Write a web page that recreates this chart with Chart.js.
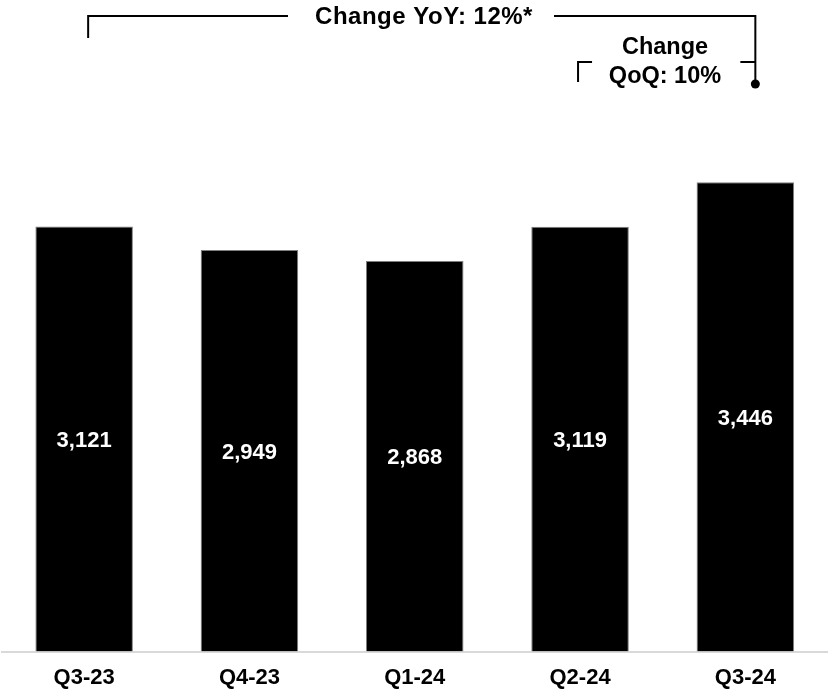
<!DOCTYPE html>
<html>
<head>
<meta charset="utf-8">
<script src="https://cdn.jsdelivr.net/npm/chart.js@4.4.1/dist/chart.umd.min.js"></script>
<style>
  html, body { margin: 0; padding: 0; background: #fff; overflow: hidden; }
  #wrap { position: relative; width: 828px; height: 705px; }
</style>
</head>
<body>
<div id="wrap"><canvas id="chart"></canvas></div>
<script>
/* ═══════════════════════════════════════════
   DATA
═══════════════════════════════════════════ */
const quarters = ['Q3-23', 'Q4-23', 'Q1-24', 'Q2-24', 'Q3-24'];
const values = [3121, 2949, 2868, 3119, 3446];
const yoyText = ['Change YoY: 12%*'];
const qoqText = ['Change', 'QoQ: 10%'];

const FONT = '"Liberation Sans", Arial, sans-serif';

/* ═══════════════════════════════════════════
   VALUE LABELS INSIDE BARS
═══════════════════════════════════════════ */
const barLabels = {
  id: 'barLabels',
  afterDatasetsDraw(chart) {
    const ctx = chart.ctx;
    const meta = chart.getDatasetMeta(0);
    ctx.save();
    ctx.fillStyle = '#fff';
    ctx.font = `bold 22px ${FONT}`;
    ctx.textAlign = 'center';
    ctx.textBaseline = 'middle';
    meta.data.forEach((bar, i) => {
      const mid = (bar.y + bar.base) / 2 + 2;
      ctx.fillText(values[i].toLocaleString('en-US'), bar.x, mid);
    });
    ctx.restore();
  }
};

/* ═══════════════════════════════════════════
   CHANGE BRACKETS
═══════════════════════════════════════════ */
const brackets = {
  id: 'brackets',
  afterDraw(chart) {
    const ctx = chart.ctx;
    const x = chart.scales.x;
    const first = x.getPixelForValue(0);
    const prev = x.getPixelForValue(3);
    const last = x.getPixelForValue(4);
    const right = last + 10;

    ctx.save();
    ctx.strokeStyle = '#000';
    ctx.fillStyle = '#000';
    ctx.lineWidth = 2;

    // YoY bracket
    const yTop = 16;
    ctx.beginPath();
    ctx.moveTo(first + 4, 38);
    ctx.lineTo(first + 4, yTop);
    ctx.lineTo(288, yTop);
    ctx.moveTo(554, yTop);
    ctx.lineTo(right, yTop);
    ctx.lineTo(right, 84);
    ctx.stroke();

    // QoQ bracket
    const yQ = 62;
    ctx.beginPath();
    ctx.moveTo(prev - 2, 82);
    ctx.lineTo(prev - 2, yQ);
    ctx.lineTo(prev + 12, yQ);
    ctx.moveTo(right - 15, yQ);
    ctx.lineTo(right, yQ);
    ctx.stroke();

    ctx.beginPath();
    ctx.arc(right, 84, 4.5, 0, Math.PI * 2);
    ctx.fill();

    ctx.textAlign = 'center';
    ctx.textBaseline = 'middle';
    ctx.font = `bold 24px ${FONT}`;
    ctx.letterSpacing = '0.5px';
    ctx.fillText(yoyText[0], 424, yTop + 1);
    ctx.letterSpacing = '0px';
    ctx.font = `bold 23.5px ${FONT}`;
    ctx.fillText(qoqText[0], 665, 48);
    ctx.fillText(qoqText[1], 665, 77);
    ctx.restore();
  }
};

/* ═══════════════════════════════════════════
   CHART
═══════════════════════════════════════════ */
new Chart(document.getElementById('chart'), {
  type: 'bar',
  data: {
    labels: quarters,
    datasets: [{
      data: values,
      backgroundColor: '#000',
      borderColor: '#7f7f7f',
      borderWidth: 1,
      barPercentage: 0.59,
      categoryPercentage: 1
    }]
  },
  options: {
    responsive: true,
    maintainAspectRatio: false,
    animation: false,
    layout: { padding: { left: 1.5, right: 0, top: 0, bottom: 0 } },
    plugins: { legend: { display: false }, tooltip: { enabled: false } },
    scales: {
      x: {
        grid: { display: false, drawTicks: false },
        border: { display: true, color: '#d9d9d9', width: 2 },
        ticks: { color: '#000', padding: 13.5, font: { family: FONT, size: 22, weight: 'bold' } }
      },
      y: {
        display: false,
        min: 0,
        max: 4784
      }
    }
  },
  plugins: [barLabels, brackets]
});
</script>
</body>
</html>
